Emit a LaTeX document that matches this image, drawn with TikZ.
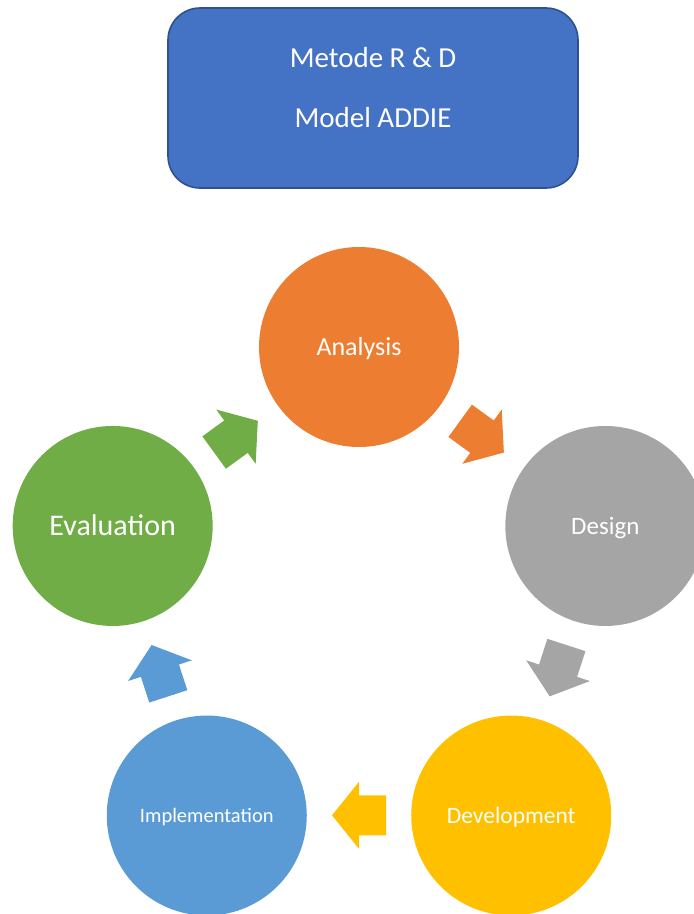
\documentclass[tikz,border=0pt]{standalone}
\usepackage{fontspec}
\setmainfont{Carlito}
\usetikzlibrary{calc}
\definecolor{boxblue}{HTML}{4472C4}
\definecolor{boxedge}{HTML}{2F528F}
\definecolor{cOrange}{HTML}{ED7D31}
\definecolor{cGray}{HTML}{A5A5A5}
\definecolor{cYellow}{HTML}{FFC000}
\definecolor{cBlue}{HTML}{5B9BD5}
\definecolor{cGreen}{HTML}{70AD47}
\tikzset{
  titlebox/.style={draw=boxedge, line width=1.6pt, fill=boxblue, rounded corners=32pt,
    minimum width=410pt, minimum height=180pt, inner sep=0pt},
  titletext/.style={anchor=base, text=white, font=\fontsize{29}{34}\selectfont, inner sep=0pt},
  phase/.style 2 args={circle, fill=#1, minimum size=200pt, inner sep=0pt, text=white,
    font=\fontsize{#2}{#2}\selectfont, text height={0.644*#2 pt}, text depth=0pt},
  cyclearrow/.style={fill=#1}
}
\begin{document}
\begin{tikzpicture}[x=1pt,y=1pt]
\useasboundingbox (0,0) rectangle (694,-914);
% title box
\node[titlebox] (title) at (373,-98) {};
\node[titletext] (t1) at (373,-67) {Metode R \& D};
\node[titletext] (t2) at (373,-127) {Model ADDIE};
% cycle centre
\coordinate (C) at (359,-606);
% phases
\node[phase={cOrange}{26}] (analysis) at ($(C)+(90:259)$) {Analysis};
\node[phase={cGray}{25}] (design) at ($(C)+(18:259)$) {Design};
\node[phase={cYellow}{23.5}] (development) at ($(C)+(-54:259)$) {Development};
\node[phase={cBlue}{20.5}] (implementation) at ($(C)+(-126:259)$) {Implementation};
\node[phase={cGreen}{30}] (evaluation) at ($(C)+(-198:259)$) {Evaluation};
% block arrows between phases
\foreach \th/\col in {36/cOrange,108/cGray,180/cYellow,252/cBlue,324/cGreen}{
  \fill[cyclearrow=\col, shift={($(C)+({90-\th}:209.3)$)}, rotate={-\th}]
    (-27,20) -- (0,20) -- (0,33.5) -- (27,0) -- (0,-33.5) -- (0,-20) -- (-27,-20) -- cycle;
}
\end{tikzpicture}
\end{document}
